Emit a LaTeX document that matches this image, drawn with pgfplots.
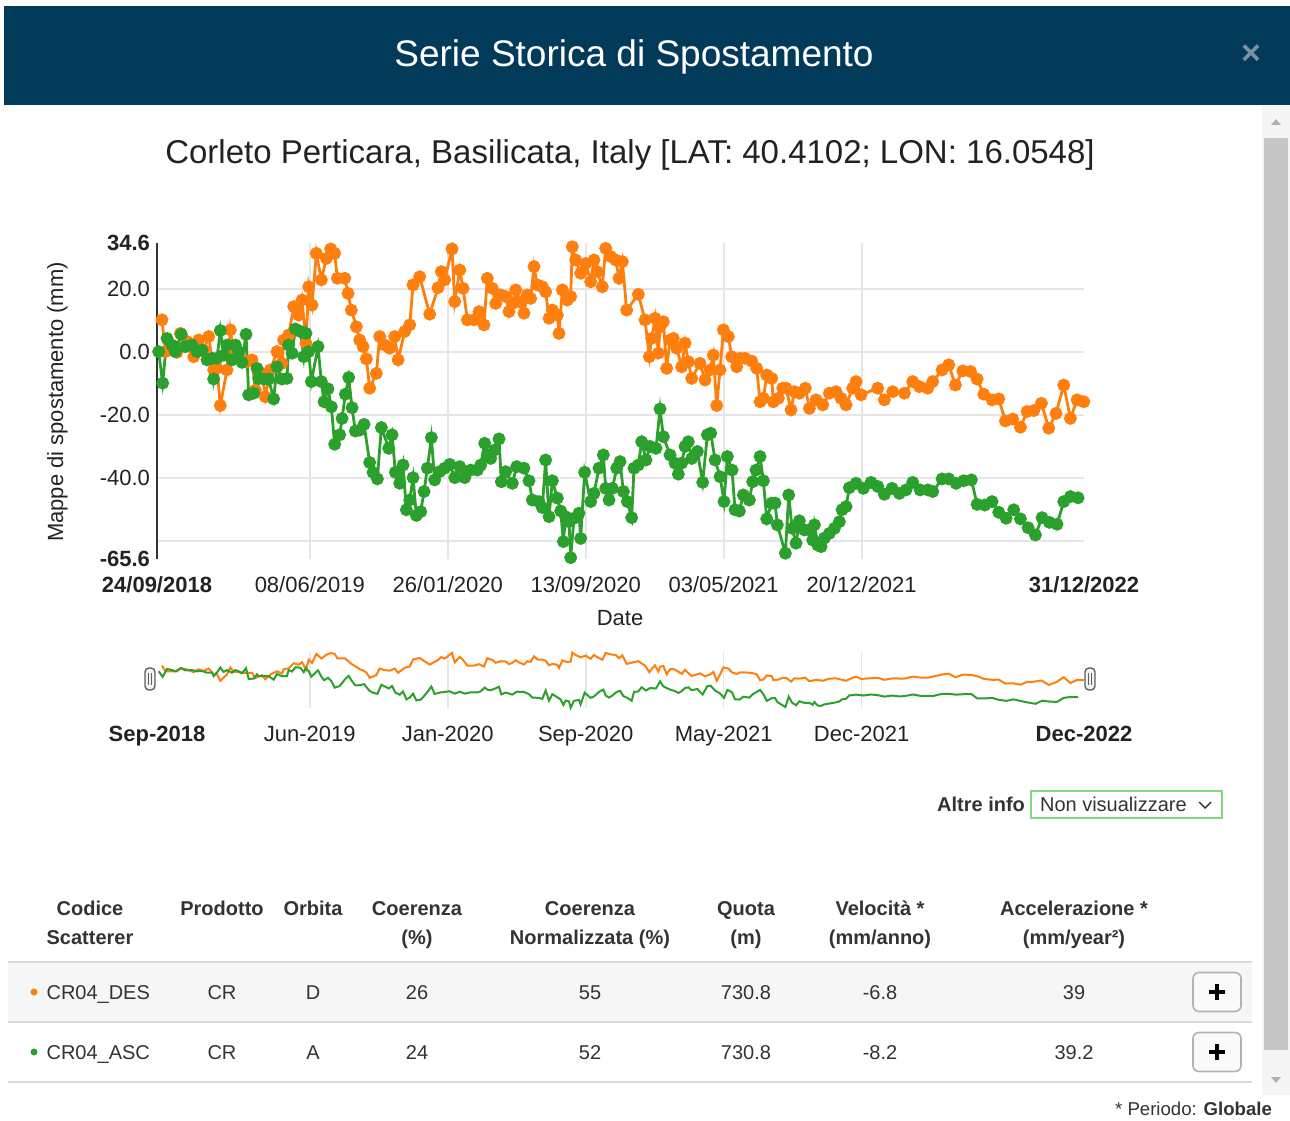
\documentclass[border=0pt]{standalone}
\usepackage{fontspec}
\setmainfont{Liberation Sans}
\usepackage{pgfplots}
\usepackage{pgfplotstable}
\pgfplotsset{compat=1.18}

\definecolor{hdr}{RGB}{2,58,90}
\definecolor{des}{RGB}{255,127,14}
\definecolor{asc}{RGB}{44,160,44}
\definecolor{gridc}{RGB}{230,230,230}
\definecolor{txt}{RGB}{34,34,34}
\definecolor{tbl}{RGB}{51,51,51}
\definecolor{ddbord}{RGB}{130,215,130}

% days since 24/09/2018, displacement in mm
\pgfplotstableread[row sep=\\]{
day mm\\
8.4 10.2\\ 14 0.1\\ 33.6 -0.1\\ 39.3 5.9\\ 50.5 3.3\\ 61.7 -1.5\\ 70.1 3.8\\ 78.5 0.6\\
86.9 4.9\\ 95.3 -5.7\\ 100.9 -5.2\\ 106.5 -17.0\\ 117.7 -5.7\\ 123.3 7.0\\ 129 -0.4\\
143 -2.5\\ 151.4 -3.1\\ 159.8 -2.5\\ 165.4 -12.1\\ 176.6 -6.8\\ 182.2 -14.2\\ 190.6 -5.7\\
201.8 0.1\\ 210.2 -3.6\\ 213 3.8\\ 221.4 5.4\\ 229.9 14.4\\ 238.3 11.7\\ 243.9 16.5\\
250.6 2.8\\ 255.1 20.7\\ 260.7 14.9\\ 268 31.3\\ 276.4 22.9\\ 284.8 29.7\\ 292.1 32.7\\
298.8 31.3\\ 303.3 23.4\\ 315.7 23.4\\ 321.3 18.6\\ 326.9 13.3\\ 335.3 8.0\\ 340.9 3.8\\
346.5 1.7\\ 352.1 -2.2\\ 357.7 -11.5\\ 368.9 -6.8\\ 374.5 4.9\\ 383 2.2\\ 391.3 1.2\\
399.8 4.9\\ 405.4 -2.5\\ 416.6 6.5\\ 425 8.6\\ 430.6 21.3\\ 441.8 23.9\\ 458.6 12.0\\
472.6 20.4\\ 478.2 25.5\\ 483.8 22.9\\ 496.2 32.7\\ 500.7 16.0\\ 509.1 26.0\\ 514.7 20.2\\
522 10.2\\ 533.1 10.2\\ 541.5 12.8\\ 549.9 8.6\\ 555.5 23.4\\ 564 20.2\\ 569.6 15.4\\
578 18.1\\ 586.4 17.6\\ 592 12.8\\ 597.6 15.4\\ 603.2 19.7\\ 608.8 16.0\\ 617.2 12.3\\
622.8 18.1\\ 628.4 17.0\\ 634 27.1\\ 639.6 21.3\\ 648 20.7\\ 653.6 19.1\\ 659.3 10.7\\
664.9 13.3\\ 673.3 11.7\\ 676.1 5.9\\ 681.7 19.7\\ 690.1 16.5\\ 695.7 17.6\\ 698.5 33.4\\
704.1 29.2\\ 712.5 25.0\\ 720.9 28.1\\ 729.3 22.3\\ 734.9 29.2\\ 740.5 25.5\\ 748.9 20.7\\
754.6 32.9\\ 763 30.3\\ 771.4 29.2\\ 777 23.4\\ 782.6 28.7\\ 789.9 13.3\\ 809.5 18.3\\
820.7 10.2\\ 828 -1.5\\ 832 4.3\\ 837.6 10.7\\ 843.2 -0.4\\ 846 8.0\\ 851.6 9.6\\
857.2 -5.2\\ 862.8 3.8\\ 868.4 4.3\\ 874 1.2\\ 882.4 -4.7\\ 888 2.8\\ 893.6 -3.1\\
899.2 -8.4\\ 913.2 -3.6\\ 921.7 -8.9\\ 930.1 -5.7\\ 935.7 -1.0\\ 941.3 -17.0\\ 946.9 -5.7\\
952.5 7.0\\ 960.9 4.9\\ 966.5 -1.5\\ 974.9 -4.7\\ 980.5 -2.0\\ 988.9 -2.0\\ 1000.1 -2.9\\
1008.5 -5.2\\ 1014.2 -15.8\\ 1019.8 -14.7\\ 1025.4 -7.3\\ 1033.8 -8.4\\ 1036.6 -15.8\\
1045 -14.7\\ 1052.3 -11.5\\ 1057.9 -11.5\\ 1066.3 -18.4\\ 1071.9 -12.6\\ 1080.3 -13.1\\
1090.4 -11.5\\ 1097.2 -17.9\\ 1108.4 -15.2\\ 1119.6 -16.8\\ 1130.8 -13.1\\ 1142 -12.6\\
1150.4 -14.7\\ 1158.8 -16.8\\ 1170 -11.5\\ 1175.6 -9.4\\ 1184.1 -13.6\\ 1212.1 -11.5\\
1223.3 -15.2\\ 1237.3 -12.6\\ 1256.9 -13.1\\ 1270.9 -9.4\\ 1282.2 -11.0\\ 1296.2 -11.5\\
1304.6 -9.4\\ 1320.3 -5.7\\ 1331.5 -4.1\\ 1342.7 -10.5\\ 1355.1 -6.0\\ 1368 -6.2\\
1379.2 -8.6\\ 1390.4 -13.4\\ 1404.4 -15.2\\ 1415.6 -14.9\\ 1426.8 -21.9\\ 1439.2 -21.3\\
1452.1 -23.9\\ 1463.3 -18.9\\ 1474.5 -18.6\\ 1487.4 -16.3\\ 1499.7 -24.2\\ 1512 -19.5\\
1524.9 -10.5\\ 1536.1 -21.1\\ 1547.4 -15.2\\ 1558.6 -15.8\\
}\des

\pgfplotstableread[row sep=\\]{
day mm\\
2.8 0.1\\ 9.5 -9.9\\ 16.8 4.3\\ 25.2 2.2\\ 30.8 0.1\\ 40.9 5.6\\ 47.7 1.7\\ 58.9 2.2\\
67.3 0.1\\ 75.7 0.6\\ 84.1 -2.5\\ 92.5 -2.0\\ 95.3 -8.6\\ 100.9 -2.0\\ 106.5 6.8\\
112.1 -1.0\\ 117.7 2.2\\ 126.1 -2.5\\ 131.8 2.2\\ 137.4 0.1\\ 143 -3.3\\ 149.7 5.6\\
154.2 -13.6\\ 162.6 -13.1\\ 168.2 -5.2\\ 171 -8.4\\ 179.4 -8.6\\ 187.8 -8.6\\ 196.2 -14.9\\
201.8 -4.7\\ 210.2 -8.6\\ 218.6 -8.4\\ 221.4 2.2\\ 227.1 -0.4\\ 232.7 7.3\\ 241.1 6.5\\
246.7 -1.5\\ 250.6 5.9\\ 255.1 0.1\\ 259.6 -9.4\\ 270.8 1.7\\ 276.4 -9.4\\ 280.9 -15.8\\
287.6 -11.7\\ 293.2 -17.4\\ 298.8 -29.3\\ 307.3 -26.3\\ 311.2 -21.1\\ 316.8 -13.4\\
322.4 -8.1\\ 328 -17.7\\ 333.6 -25.1\\ 340.9 -24.8\\ 348.2 -23.0\\ 357.7 -35.1\\
363.3 -38.2\\ 370.6 -40.3\\ 377.3 -24.0\\ 389.7 -30.6\\ 395.3 -26.3\\ 400.9 -38.2\\
408.2 -41.7\\ 413.8 -35.9\\ 419.4 -50.1\\ 425 -47.0\\ 430.6 -39.9\\ 436.2 -51.9\\
443.5 -50.7\\ 449.1 -44.3\\ 454.7 -36.9\\ 461.4 -27.2\\ 467 -40.6\\ 475.4 -38.0\\
483.8 -36.9\\ 492.3 -35.7\\ 500.7 -39.9\\ 509.1 -36.4\\ 517.5 -39.9\\ 527.5 -37.5\\
538.7 -37.5\\ 544.3 -35.9\\ 551.1 -29.0\\ 555.5 -32.7\\ 561.1 -33.8\\ 567.9 -31.1\\
575.2 -27.6\\ 579.1 -41.2\\ 586.4 -38.0\\ 597.6 -41.7\\ 604.9 -36.4\\ 617.2 -36.9\\
625.6 -40.9\\ 631.2 -47.0\\ 642.4 -47.5\\ 648 -49.4\\ 653.6 -34.3\\ 659.3 -52.3\\
664.9 -40.9\\ 673.3 -46.4\\ 678.9 -50.5\\ 683.4 -60.2\\ 687.3 -52.3\\ 692.9 -53.9\\
695.7 -65.3\\ 701.3 -52.8\\ 709.7 -51.2\\ 712.5 -59.2\\ 719.2 -38.2\\ 729.3 -47.5\\
734.9 -44.9\\ 743.3 -36.9\\ 750.6 -32.7\\ 754.6 -43.3\\ 760.2 -47.0\\ 765.8 -43.3\\
773.1 -36.9\\ 778.7 -34.8\\ 784.3 -44.3\\ 791 -47.5\\ 798.3 -52.6\\ 802.2 -36.9\\
809.5 -35.9\\ 815.1 -28.5\\ 822.4 -34.3\\ 829.2 -30.0\\ 839.2 -30.6\\ 846 -18.1\\
851.6 -26.9\\ 862.8 -32.7\\ 871.2 -35.3\\ 876.8 -38.8\\ 882.4 -35.3\\ 888 -30.0\\
893.6 -28.5\\ 899.2 -33.8\\ 908.8 -31.6\\ 917.7 -41.4\\ 925.6 -26.3\\ 931.2 -25.8\\
938.5 -34.3\\ 946.9 -39.6\\ 953.6 -47.5\\ 959.2 -33.2\\ 967.1 -37.5\\ 972.1 -50.1\\
979.4 -50.5\\ 986.1 -45.4\\ 996.2 -47.0\\ 1001.8 -41.2\\ 1007.4 -37.5\\ 1014.2 -33.2\\
1019.8 -40.9\\ 1025.4 -53.0\\ 1033.8 -48.0\\ 1039.4 -48.0\\ 1043.3 -54.9\\ 1056.8 -63.9\\
1062.4 -45.4\\ 1068 -56.0\\ 1074.7 -60.7\\ 1080.3 -53.6\\ 1088.8 -56.5\\ 1097.2 -56.5\\
1102.8 -59.7\\ 1105.6 -54.9\\ 1111.2 -61.3\\ 1116.8 -61.8\\ 1122.4 -59.1\\ 1130.8 -57.6\\
1139.2 -56.0\\ 1147.6 -53.9\\ 1152.1 -50.1\\ 1158.8 -49.1\\ 1164.4 -43.1\\ 1175.6 -41.7\\
1188 -43.3\\ 1200.9 -41.4\\ 1212.1 -42.7\\ 1223.3 -45.2\\ 1236.2 -43.3\\ 1248.5 -44.9\\
1259.7 -43.8\\ 1270.9 -41.4\\ 1283.3 -43.8\\ 1296.2 -43.8\\ 1304.6 -44.3\\ 1320.3 -40.3\\
1331.5 -40.3\\ 1343.9 -41.7\\ 1356.8 -40.9\\ 1369.6 -40.6\\ 1379.2 -48.4\\ 1392.1 -48.6\\
1404.4 -47.5\\ 1415.6 -50.9\\ 1428 -52.8\\ 1440.8 -50.1\\ 1452.1 -53.0\\ 1464.9 -55.8\\
1477.3 -58.1\\ 1488.5 -52.6\\ 1500.8 -54.1\\ 1513.7 -54.7\\ 1524.9 -47.5\\ 1536.1 -45.9\\
1549 -46.3\\
}\asc

\newcommand{\fs}[1]{\fontsize{#1}{1.2\dimexpr#1\relax}\selectfont}

\begin{document}
\begin{tikzpicture}[x=0.5pt, y=0.5pt]
\path[use as bounding box] (0,0) rectangle (1290,1120);

% header bar
\fill[hdr] (4,1015) rectangle (1290,1114);
\node[anchor=base, text=white, font=\fs{18.5pt}] at (634,1053) {Serie Storica di Spostamento};
\node[text={rgb,255:red,125;green,145;blue,160}, font=\bfseries\fs{17pt}] at (1251,1065) {×};

% scrollbar
\fill[gray!8] (1262,25) rectangle (1290,1014);
\fill[gray!45] (1264,70) rectangle (1288,982);
\fill[gray!60] (1271,995) -- (1281,995) -- (1276,1001) -- cycle;
\fill[gray!60] (1271,43) -- (1281,43) -- (1276,37) -- cycle;

% subtitle
\node[anchor=base, text=txt, font=\fs{16.5pt}] at (630,956)
  {Corleto Perticara, Basilicata, Italy [LAT: 40.4102; LON: 16.0548]};

% main chart
\begin{axis}[
  at={(78.5pt,280.7pt)}, anchor=south west, scale only axis,
  width=463.5pt, height=157.8pt,
  xmin=0, xmax=1559, ymin=-65.6, ymax=34.6,
  axis lines*=left,
  x axis line style={draw=none},
  y axis line style={draw=black!80, line width=0.7pt},
  xtick={257,489,721,953,1185},
  xticklabels={08/06/2019,26/01/2020,13/09/2020,03/05/2021,20/12/2021},
  extra x ticks={0,1559},
  extra x tick labels={\textbf{24/09/2018},\textbf{31/12/2022}},
  extra x tick style={grid=none},
  ytick={-60,-40,-20,0,20},
  yticklabels={{},-40.0,-20.0,0.0,20.0},
  extra y ticks={-65.6,34.6},
  extra y tick labels={\textbf{-65.6},\textbf{34.6}},
  extra y tick style={grid=none},
  grid=major,
  major grid style={gridc, line width=1pt},
  major tick length=0pt,
  tick label style={font=\fs{11pt}, text=txt},
  xticklabel style={yshift=-5.6pt},
]
\addplot[des, line width=1.4pt, mark=*, mark size=2.5pt,
  mark options={solid, fill=des, draw=des}] table[x=day, y=mm] {\des};
\addplot[asc, line width=1.4pt, mark=*, mark size=2.5pt,
  mark options={solid, fill=asc, draw=asc}] table[x=day, y=mm] {\asc};
\end{axis}

\node[rotate=90, anchor=base, text=txt, font=\fs{11pt}] at (63,718) {Mappe di spostamento (mm)};
\node[anchor=base, text=txt, font=\fs{11pt}] at (620,494) {Date};

% navigator
\begin{axis}[
  at={(78.5pt,206pt)}, anchor=south west, scale only axis,
  width=463.5pt, height=28pt,
  xmin=0, xmax=1559, ymin=-65.6, ymax=34.6,
  axis line style={draw=none},
  ytick=\empty,
  xtick={257,489,721,953,1185},
  xticklabels={Jun-2019,Jan-2020,Sep-2020,May-2021,Dec-2021},
  extra x ticks={0,1559},
  extra x tick labels={\textbf{Sep-2018},\textbf{Dec-2022}},
  extra x tick style={grid=none},
  xmajorgrids,
  major grid style={gridc, line width=0.8pt},
  major tick length=0pt,
  tick label style={font=\fs{11pt}, text=txt},
  xticklabel style={yshift=-5.6pt},
  clip=false,
]
\addplot[des, line width=1pt, no marks] table[x=day, y=mm] {\des};
\addplot[asc, line width=1pt, no marks] table[x=day, y=mm] {\asc};
\end{axis}
% navigator handles
\foreach \hx in {150,1090}{
  \draw[gray!75!black, fill=gray!10, line width=0.7pt, rounded corners=2pt]
    (\hx-5,430) rectangle (\hx+5,452);
  \draw[gray!75!black, line width=0.5pt] (\hx-1.5,435) -- (\hx-1.5,447) (\hx+1.5,435) -- (\hx+1.5,447);
}

% altre info
\node[anchor=base east, text=tbl, font=\bfseries\fs{10pt}] at (1032,308) {Altre info};
\draw[ddbord, line width=0.7pt] (1031,302) rectangle (1222,329);
\node[anchor=base west, text=tbl, font=\fs{10pt}] at (1033,308) {Non visualizzare};
\draw[tbl, line width=0.7pt] (1199,318) -- (1205,312) -- (1211,318);

% table
\fill[gray!7] (8,98) rectangle (1252,158);
\draw[gray!30, line width=1pt] (8,158) -- (1252,158);
\draw[gray!30, line width=1pt] (8,98) -- (1252,98);
\draw[gray!30, line width=1pt] (8,38) -- (1252,38);

\begin{scope}[every node/.style={anchor=base, text=tbl, font=\bfseries\fs{10pt}}]
\node at (90,205) {Codice};        \node at (90,176) {Scatterer};
\node at (222,205) {Prodotto};
\node at (313,205) {Orbita};
\node at (417,205) {Coerenza};     \node at (417,176) {(\%)};
\node at (590,205) {Coerenza};     \node at (590,176) {Normalizzata (\%)};
\node at (746,205) {Quota};        \node at (746,176) {(m)};
\node at (880,205) {Velocità *};   \node at (880,176) {(mm/anno)};
\node at (1074,205) {Accelerazione *}; \node at (1074,176) {(mm/year²)};
\end{scope}

\begin{scope}[every node/.style={anchor=base, text=tbl, font=\fs{10pt}}]
\fill[des] (34,128) circle (3.5);
\node[anchor=base west] at (39.5,121) {CR04\_DES};
\node at (222,121) {CR}; \node at (313,121) {D}; \node at (417,121) {26};
\node at (590,121) {55}; \node at (746,121) {730.8}; \node at (880,121) {-6.8};
\node at (1074,121) {39};
\fill[asc] (34,68) circle (3.5);
\node[anchor=base west] at (39.5,61) {CR04\_ASC};
\node at (222,61) {CR}; \node at (313,61) {A}; \node at (417,61) {24};
\node at (590,61) {52}; \node at (746,61) {730.8}; \node at (880,61) {-8.2};
\node at (1074,61) {39.2};
\end{scope}

% buttons
\foreach \by in {128,68}{
  \draw[gray!60, fill=gray!4, line width=0.8pt, rounded corners=3pt]
    (1193,\by-19.5) rectangle (1241,\by+19.5);
  \draw[black, line width=2.2pt] (1209,\by) -- (1225,\by) (1217,\by-8) -- (1217,\by+8);
}

% footer
\node[anchor=base east, text=tbl, font=\fs{9.3pt}] at (1279,5) {* Periodo: \textbf{Globale}};
\end{tikzpicture}
\end{document}
